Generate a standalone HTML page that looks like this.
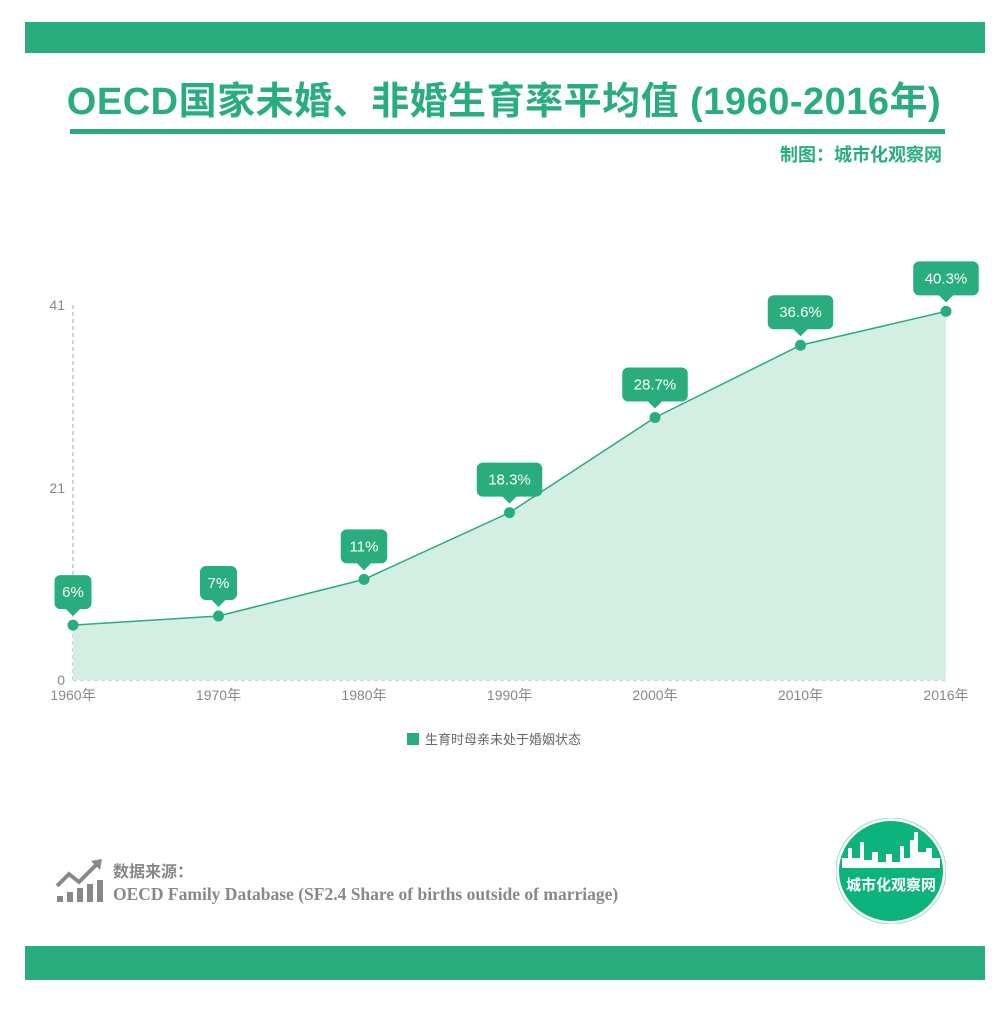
<!DOCTYPE html>
<html><head><meta charset="utf-8"><style>
body{margin:0;background:#fff;width:1008px;height:1016px;position:relative;overflow:hidden;font-family:"Liberation Sans","Noto Sans CJK SC",sans-serif}
.bar{position:absolute;left:25px;width:960px;background:#2aad7e}
#title{position:absolute;top:70px;left:0;width:1008px;text-align:center;font-size:38px;font-weight:bold;color:#2aad7e;letter-spacing:0.5px}
#rule{position:absolute;left:70px;top:129px;width:875px;height:5px;background:#2aad7e}
#credit{position:absolute;right:66px;top:141px;font-size:18px;font-weight:bold;color:#2aad7e}
#src1{position:absolute;left:113px;top:858px;font-size:16px;font-weight:bold;color:#888}
#src2{position:absolute;left:113px;top:884px;font-family:"Liberation Serif","Noto Serif CJK SC",serif;font-size:17.5px;font-weight:bold;color:#888}
</style></head><body>
<div class="bar" style="top:22px;height:31px"></div>
<div id="title">OECD国家未婚、非婚生育率平均值 (1960-2016年)</div>
<div id="rule"></div>
<div id="credit">制图：城市化观察网</div>
<svg id="chart" width="1008" height="1016" style="position:absolute;left:0;top:0"></svg>
<svg style="position:absolute;left:55px;top:858px" width="50" height="45">
<polyline points="2,28 14,16 24,24 42,6" fill="none" stroke="#888" stroke-width="4"/>
<polygon points="36,3 47,1 45,12" fill="#888"/>
<rect x="2" y="38" width="6" height="6" fill="#888"/><rect x="12" y="34" width="6" height="10" fill="#888"/><rect x="22" y="30" width="6" height="14" fill="#888"/><rect x="32" y="26" width="6" height="18" fill="#888"/><rect x="42" y="22" width="6" height="22" fill="#888"/>
</svg>
<div id="src1">数据来源：</div>
<div id="src2">OECD Family Database (SF2.4 Share of births outside of marriage)</div>
<svg style="position:absolute;left:836px;top:818px" width="110" height="106">
<ellipse cx="55" cy="53" rx="53" ry="51" fill="#0db37c" stroke="#fff" stroke-width="2"/>
<ellipse cx="55" cy="53" rx="55" ry="53" fill="none" stroke="#9edcc4" stroke-width="1"/>
<path d="M6,50 L6,40 L12,40 L12,30 L16,30 L16,40 L24,40 L24,24 L28,24 L28,42 L36,42 L36,34 L42,34 L42,44 L50,44 L50,36 L56,36 L56,44 L64,44 L64,28 L68,28 L68,40 L74,40 L74,22 L78,22 L78,14 L82,14 L82,34 L90,34 L90,30 L96,30 L96,40 L104,40 L104,50 Z" fill="#fff"/>
<text x="55" y="72" text-anchor="middle" font-size="15" font-weight="bold" fill="#fff">城市化观察网</text>
</svg>
<div class="bar" style="top:946px;height:34px"></div>
<script>
const categories=["1960年","1970年","1980年","1990年","2000年","2010年","2016年"];
const values=[6,7,11,18.3,28.7,36.6,40.3];
const labels=["6%","7%","11%","18.3%","28.7%","36.6%","40.3%"];
const yTicks=[0,21,41];
const legendLabel="生育时母亲未处于婚姻状态";
const NS="http://www.w3.org/2000/svg";
const svg=document.getElementById('chart');
const x0=73,x1=946,yb=680,yt=305,ymax=41;
function xs(i){return x0+(x1-x0)*i/(categories.length-1);}
function ys(v){return yb-(yb-yt)*v/ymax;}
function mk(t,a,p){const e=document.createElementNS(NS,t);for(const k in a)e.setAttribute(k,a[k]);(p||svg).appendChild(e);return e;}
let ya=mk('line',{x1:x0,y1:yt,x2:x0,y2:yb,stroke:'#aaa','stroke-dasharray':'4,3'});


let xa=mk('line',{x1:x0,y1:yb,x2:x1,y2:yb,stroke:'#aaa','stroke-dasharray':'4,3'});


yTicks.forEach(v=>{const t=mk('text',{x:x0-8,y:ys(v)+5,'text-anchor':'end','font-size':14,fill:'#888'});t.textContent=v;

});
categories.forEach((c,i)=>{const t=mk('text',{x:xs(i),y:700,'text-anchor':'middle','font-size':14,fill:'#888'});t.textContent=c;

});
let d='M'+xs(0)+','+yb;values.forEach((v,i)=>d+=' L'+xs(i)+','+ys(v));d+=' L'+xs(values.length-1)+','+yb+' Z';
let area=mk('path',{d:d,fill:'#d3eee3'});


let pl=mk('polyline',{points:values.map((v,i)=>xs(i)+','+ys(v)).join(' '),fill:'none',stroke:'#2aad7e','stroke-width':1.5});


values.forEach((v,i)=>{
 const x=xs(i),y=ys(v);
 const c=mk('circle',{cx:x,cy:y,r:5.5,fill:'#2aad7e'});
 
 
 const w=labels[i].length*9.5+18;
 const g=mk('g',{});
 
 
 mk('rect',{x:x-w/2,y:y-50,width:w,height:34,rx:6,fill:'#2aad7e'},g);
 mk('polygon',{points:(x-8)+','+(y-17)+' '+(x+8)+','+(y-17)+' '+x+','+(y-9),fill:'#2aad7e'},g);
 const t=mk('text',{x:x,y:y-28,'text-anchor':'middle','font-size':15,fill:'#fff'},g);t.textContent=labels[i];
});
let lg=mk('rect',{x:407,y:733,width:12,height:12,fill:'#2aad7e'});


let lt=mk('text',{x:425,y:744,'font-size':13,fill:'#666'});lt.textContent=legendLabel;


</script>
</body></html>
